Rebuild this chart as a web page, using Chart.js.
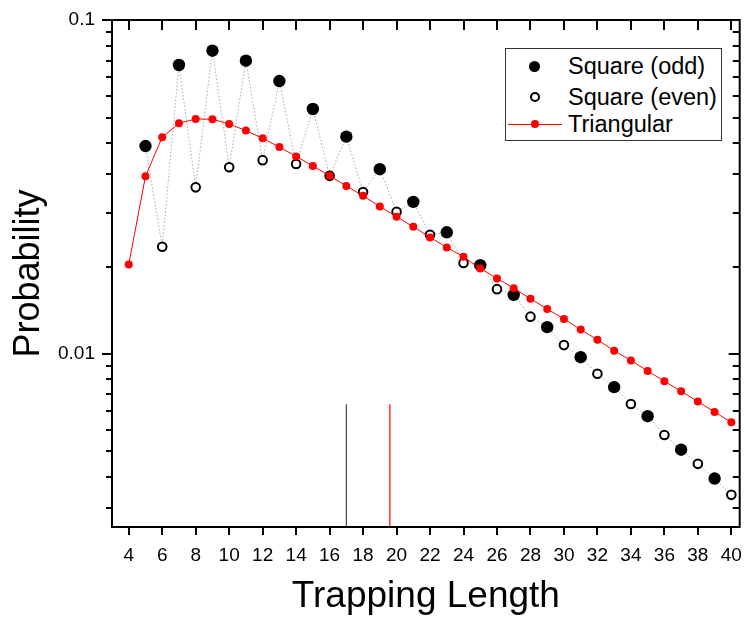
<!DOCTYPE html>
<html>
<head>
<meta charset="utf-8">
<title>Trapping Length</title>
<script src="https://cdn.jsdelivr.net/npm/chart.js@4.4.0/dist/chart.umd.min.js"></script>
<style>
  body { margin: 0; background: #fff; }
  #wrap { position: relative; width: 746px; height: 622px; }
  #leyenda {
    position: absolute; left: 505px; top: 48px; width: 217px; height: 93px;
    box-sizing: border-box; border: 1px solid #333; background: #fff;
    font: 23.5px Arial, "Liberation Sans", sans-serif; color: #000;
  }
  .fila { position: absolute; left: 0; width: 100%; height: 28px; line-height: 28px; }
  .fila .txt { position: absolute; left: 62px; top: 0; white-space: nowrap; }
  .sim { position: absolute; box-sizing: border-box; border-radius: 50%; }
</style>
</head>
<body>
<div id="wrap">
  <canvas id="grafico" width="746" height="622"></canvas>
  <div id="leyenda"></div>
</div>
<script>
// datos
const seriesNames = ['Square (odd)', 'Square (even)', 'Triangular'];

const lengthsOdd = [5, 7, 9, 11, 13, 15, 17, 19, 21, 23, 25, 27, 29, 31, 33, 35, 37, 39];
const squareOdd = [0.0419, 0.0733, 0.0809, 0.0755, 0.0656, 0.0541, 0.0447, 0.0357, 0.0285,
  0.0231, 0.0184, 0.0150, 0.0120, 0.00975, 0.00793, 0.00649, 0.00515, 0.00422];

const lengthsEven = [6, 8, 10, 12, 14, 16, 18, 20, 22, 24, 26, 28, 30, 32, 34, 36, 38, 40];
const squareEven = [0.0209, 0.0315, 0.0362, 0.0380, 0.0370, 0.0341, 0.0305, 0.0266, 0.0227,
  0.0187, 0.0156, 0.0129, 0.0106, 0.0087, 0.00706, 0.0057, 0.00467, 0.00377];

const lengthsTri = [4, 5, 6, 7, 8, 9, 10, 11, 12, 13, 14, 15, 16, 17, 18, 19, 20, 21, 22,
  23, 24, 25, 26, 27, 28, 29, 30, 31, 32, 33, 34, 35, 36, 37, 38, 39, 40];
const triangular = [0.0185, 0.0340, 0.0445, 0.0490, 0.0505, 0.0504, 0.0488, 0.0466, 0.0442,
  0.0416, 0.0390, 0.0365, 0.0341, 0.0318, 0.0297, 0.0276, 0.0257, 0.0240, 0.0223,
  0.0208, 0.0195, 0.0180, 0.0168, 0.0157, 0.0146, 0.0136, 0.0127, 0.0118, 0.0110,
  0.0102, 0.00953, 0.00887, 0.00826, 0.00771, 0.00718, 0.00668, 0.00622];

// lineas verticales (media de cada serie)
const markerX = [17, 19.6];
const markerTop = [0.00705, 0.00705];
const markerColors = ['#444444', '#ff0000'];

// ejes
const xRange = [3, 40.5];
const yRange = [0.00302, 0.1];
const xTicks = [4, 6, 8, 10, 12, 14, 16, 18, 20, 22, 24, 26, 28, 30, 32, 34, 36, 38, 40];
const yMajorTicks = [0.01, 0.1];
const yMinorTicks = [0.003455, 0.004273, 0.005091, 0.005909, 0.006727, 0.007545, 0.008364, 0.009182,
  0.01818, 0.02636, 0.03455, 0.04273, 0.05091, 0.05909, 0.06727, 0.07545, 0.08364, 0.09182];
const yLabels = { 0.1: '0.1', 0.01: '0.01' };

const fuente = 'Arial, "Liberation Sans", sans-serif';

const toPoints = (xs, ys) => xs.map((x, i) => ({ x, y: ys[i] }));

// linea punteada gris que une impares y pares en orden
const squareAll = toPoints(lengthsOdd, squareOdd)
  .concat(toPoints(lengthsEven, squareEven))
  .sort((a, b) => a.x - b.x);

const markerSets = markerX.map((x, i) => ({
  data: [{ x, y: yRange[0] }, { x, y: markerTop[i] }],
  showLine: true,
  borderColor: markerColors[i],
  borderWidth: 1.2,
  pointRadius: 0,
  order: 6
}));

// marcas de los ejes (dentro arriba/derecha, fuera abajo/izquierda) y marco
const marcoPlugin = {
  id: 'marco',
  afterDraw(chart) {
    const { ctx, chartArea: a, scales } = chart;
    const xs = scales.x, ys = scales.y;
    ctx.save();
    ctx.strokeStyle = '#000';
    ctx.lineWidth = 2;
    ctx.beginPath();
    xTicks.forEach((v) => {
      const px = Math.round(xs.getPixelForValue(v));
      ctx.moveTo(px, a.bottom); ctx.lineTo(px, a.bottom + 8);
      ctx.moveTo(px, a.top); ctx.lineTo(px, a.top + 10);
    });
    yMajorTicks.forEach((v) => {
      const py = Math.round(ys.getPixelForValue(v));
      ctx.moveTo(a.left - 10, py); ctx.lineTo(a.left, py);
      ctx.moveTo(a.right - 11, py); ctx.lineTo(a.right, py);
    });
    yMinorTicks.forEach((v) => {
      const py = Math.round(ys.getPixelForValue(v));
      ctx.moveTo(a.left - 6, py); ctx.lineTo(a.left, py);
      ctx.moveTo(a.right - 7, py); ctx.lineTo(a.right, py);
    });
    ctx.stroke();
    ctx.strokeRect(a.left, a.top, a.right - a.left, a.bottom - a.top);
    ctx.restore();
  }
};

const ctx = document.getElementById('grafico').getContext('2d');
const chart = new Chart(ctx, {
  type: 'scatter',
  data: {
    datasets: [
      ...markerSets,
      {
        data: squareAll,
        showLine: true,
        borderColor: '#a8a8a8',
        borderWidth: 1,
        borderDash: [1.5, 2],
        pointRadius: 0,
        order: 4
      },
      {
        label: seriesNames[0],
        data: toPoints(lengthsOdd, squareOdd),
        pointRadius: 6.2,
        pointBackgroundColor: '#000',
        pointBorderWidth: 0,
        order: 3
      },
      {
        label: seriesNames[1],
        data: toPoints(lengthsEven, squareEven),
        pointRadius: 4.3,
        pointBackgroundColor: '#fff',
        pointBorderColor: '#000',
        pointBorderWidth: 2,
        order: 2
      },
      {
        label: seriesNames[2],
        data: toPoints(lengthsTri, triangular),
        showLine: true,
        borderColor: '#ff0000',
        borderWidth: 1,
        pointRadius: 4,
        pointBackgroundColor: '#ff0000',
        pointBorderWidth: 0,
        order: 1
      }
    ]
  },
  options: {
    responsive: false,
    animation: false,
    devicePixelRatio: 1,
    layout: { padding: { top: 20, right: 5, left: 0, bottom: 0 } },
    plugins: { legend: { display: false }, tooltip: { enabled: false } },
    scales: {
      x: {
        type: 'linear',
        min: xRange[0],
        max: xRange[1],
        afterBuildTicks: (s) => { s.ticks = xTicks.map((v) => ({ value: v })); },
        afterFit: (s) => { s.height = 95; s.paddingLeft = 0; s.paddingRight = 0; },
        grid: { display: false, drawTicks: true, tickLength: 8 },
        border: { display: false },
        ticks: {
          autoSkip: false, maxRotation: 0, padding: 9, color: '#000',
          font: { family: fuente, size: 19 }
        },
        title: {
          display: true, text: 'Trapping Length', color: '#000',
          font: { family: fuente, size: 37, lineHeight: 1.2 },
          padding: { top: 0, bottom: 3 }
        }
      },
      y: {
        type: 'logarithmic',
        min: yRange[0],
        max: yRange[1],
        afterBuildTicks: (s) => {
          s.ticks = yMinorTicks.concat(yMajorTicks).sort((a, b) => a - b).map((v) => ({ value: v }));
        },
        afterFit: (s) => { s.width = 112; s.paddingTop = 0; s.paddingBottom = 0; },
        grid: { display: false, drawTicks: true, tickLength: 8 },
        border: { display: false },
        ticks: {
          autoSkip: false, padding: 9, color: '#000',
          font: { family: fuente, size: 19 },
          callback: (v) => yLabels[v] || ''
        },
        title: {
          display: true, text: 'Probability', color: '#000',
          font: { family: fuente, size: 36, lineHeight: 1.2 },
          padding: { top: 7, bottom: 0 }
        }
      }
    }
  },
  plugins: [marcoPlugin]
});

// leyenda en HTML
const leyenda = document.getElementById('leyenda');
const filasTop = [3, 34, 61];
const simbolos = [
  '<span class="sim" style="left:23px;top:8.5px;width:11px;height:11px;background:#000"></span>',
  '<span class="sim" style="left:23.5px;top:9px;width:10px;height:10px;border:2px solid #000;background:#fff"></span>',
  '<span style="position:absolute;left:2px;top:13.5px;width:54px;height:1px;background:#ff0000"></span>' +
    '<span class="sim" style="left:25px;top:10.2px;width:7.6px;height:7.6px;background:#ff0000"></span>'
];
seriesNames.forEach((nombre, i) => {
  const fila = document.createElement('div');
  fila.className = 'fila';
  fila.style.top = filasTop[i] + 'px';
  fila.innerHTML = simbolos[i] + `<span class="txt">${nombre}</span>`;
  leyenda.appendChild(fila);
});
</script>
</body>
</html>
